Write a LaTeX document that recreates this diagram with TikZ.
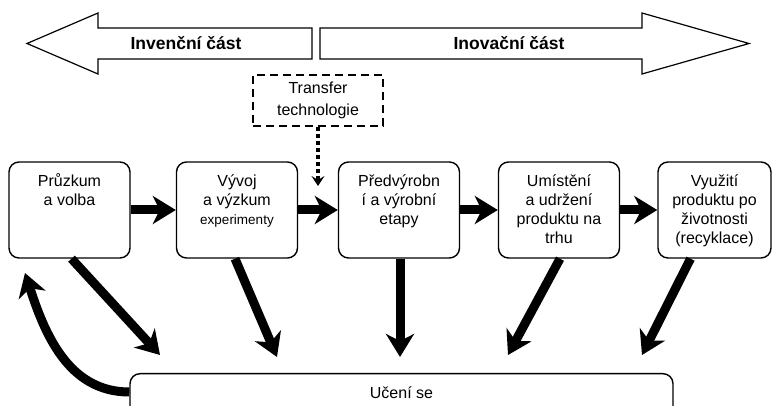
\documentclass[tikz,border=0pt]{standalone}
\usepackage{fontspec}
\setmainfont{Liberation Sans}
\usetikzlibrary{arrows.meta,calc}
\tikzset{
  stage/.style={draw,line width=1.4pt,rounded corners=10pt,minimum width=121pt,minimum height=96pt,inner sep=0pt},
  stagetext/.style={anchor=north,align=center,inner sep=0pt,font=\fontsize{16}{19}\selectfont},
  flow/.style={line width=9pt,-{Stealth[length=23pt,width=28pt,inset=7pt]}},
  dotflow/.style={line width=3.5pt,dash pattern=on 4pt off 3pt,-{Stealth[length=10pt,width=13pt,inset=4pt]}},
  part/.style={draw,line width=1.2pt,line join=miter},
}
\begin{document}
\begin{tikzpicture}[x=1pt,y=-1pt]
\useasboundingbox (0,0) rectangle (772,406);
\clip (0,0) rectangle (772,406);

% invention / innovation
\draw[part] (312,28) -- (98,28) -- (98,13) -- (27,43.5) -- (98,74) -- (98,59) -- (312,59) -- cycle;
\draw[part] (320,28) -- (642,28) -- (642,13) -- (749,43.5) -- (642,74) -- (642,59) -- (320,59) -- cycle;
\node[font=\bfseries\fontsize{17.5}{21}\selectfont] (inv) at (186,43.5) {Invenční část};
\node[font=\bfseries\fontsize{17.5}{21}\selectfont] (inov) at (509,43.5) {Inovační část};

\node[draw,dash pattern=on 8pt off 5pt,line width=1.5pt,minimum width=130pt,minimum height=51pt,
  align=center,font=\fontsize{16}{22}\selectfont] (tt) at (318,100.5) {Transfer\\technologie};
\coordinate (tt0) at (318,186);

\node[stage] (p1) at (69.5,210) {};
\node[stage] (p2) at (237,210) {};
\node[stage] (p3) at (399,210) {};
\node[stage] (p4) at (559,210) {};
\node[stage,minimum width=113pt] (p5) at (714.5,210) {};

\node[stagetext] (t1) at ([yshift=-12pt]p1.north) {\strut Průzkum\\a volba};
\node[stagetext] (t2) at ([yshift=-12pt]p2.north) {\strut Vývoj\\a výzkum\\{\fontsize{13.5}{19}\selectfont experimenty}};
\node[stagetext] (t3) at ([yshift=-12pt]p3.north) {\strut Předvýrobn\\í a výrobní\\etapy};
\node[stagetext] (t4) at ([yshift=-12pt]p4.north) {\strut Umístění\\a udržení\\produktu na\\trhu};
\node[stagetext] (t5) at ([yshift=-12pt]p5.north) {\strut Využití\\produktu po\\životnosti\\(recyklace)};

\node[draw,line width=1.4pt,rounded corners=10pt,minimum width=543pt,anchor=north,
  text height=18pt,text depth=30pt,inner ysep=7pt,
  font=\fontsize{16}{19}\selectfont] (learn) at (401.5,373) {Učení se};

\coordinate (d1) at (160,355);
\coordinate (d2) at (277,357);
\coordinate (d3) at (400,357);
\coordinate (d4) at (508,355);
\coordinate (d5) at (642,355);
\coordinate (back) at (25,273);

\path[flow] (p1) edge (p2) (p2) edge (p3) (p3) edge (p4) (p4) edge (p5);
\draw[dotflow] (tt.south) -- (tt0);

\draw[flow] ([xshift=2pt]p1.south) -- (d1);
\draw[flow] ([xshift=-2pt]p2.south) -- (d2);
\draw[flow] ([xshift=1pt]p3.south) -- (d3);
\draw[flow] ([xshift=1pt]p4.south) -- (d4);
\draw[flow] ([xshift=-24pt]p5.south) -- (d5);
\draw[flow] ([yshift=-2pt]learn.west |- 0,390) to[out=180,in=-72] (back);

\end{tikzpicture}
\end{document}
